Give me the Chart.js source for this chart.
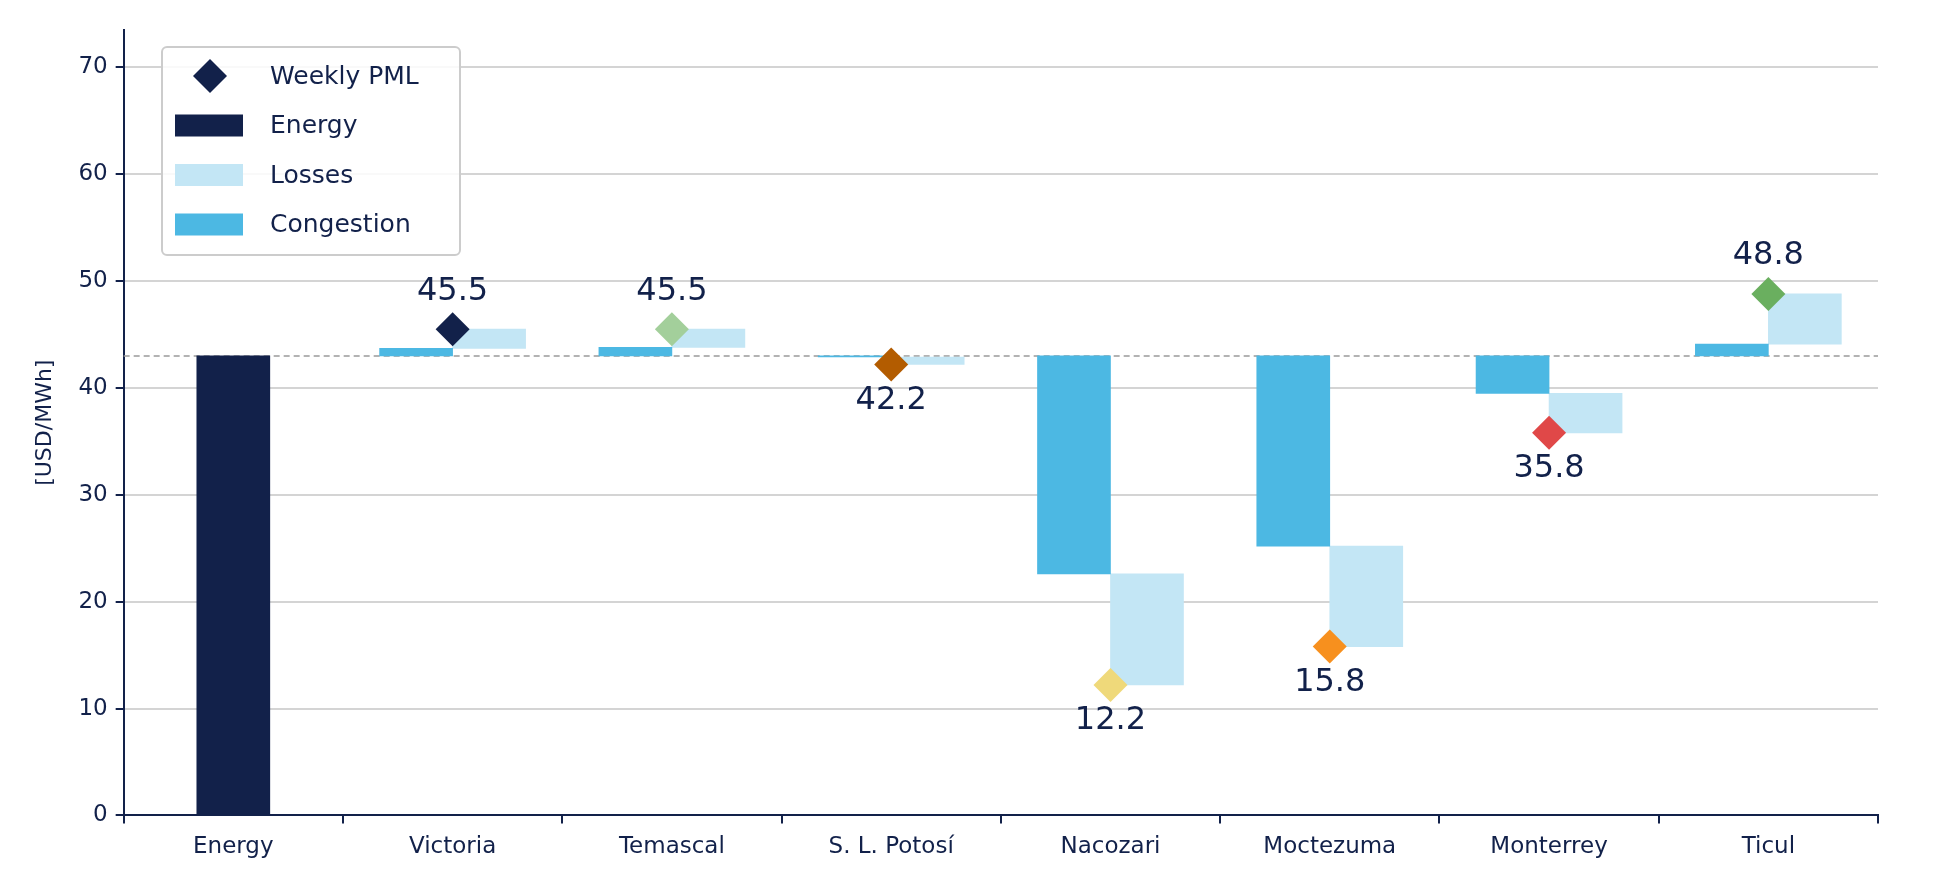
<!DOCTYPE html>
<html><head><meta charset="utf-8">
<script src="https://cdn.jsdelivr.net/npm/chart.js@4"></script>
<style>html,body{margin:0;background:#fff}#wrap{width:1940px;height:891px}</style>
</head><body><div id="wrap"><canvas id="c"></canvas></div>
<script>
const categories = ["Energy","Victoria","Temascal","S. L. Potosí","Nacozari","Moctezuma","Monterrey","Ticul"];
const energy = 43.0;
const congestionEnd = [null,43.7,43.8,42.9,22.6,25.2,39.5,44.1];
const weeklyPML = [null,45.5,45.5,42.2,12.2,15.8,35.8,48.8];
const pmlColors = ["#12214a","#12214a","#a3cf9b","#b35c00","#efd97a","#f7901e","#e04848","#6aaf5f"];
const NAVY="#12214a", LIGHT="#c3e6f5", CONG="#4cb8e3";
const F="'DejaVu Sans'";

const energyData = categories.map((c,i)=>i===0?[0,energy]:null);
const congData = categories.map((c,i)=>congestionEnd[i]===null?null:[energy,congestionEnd[i]]);
const lossData = categories.map((c,i)=>congestionEnd[i]===null?null:[congestionEnd[i],weeklyPML[i]]);

const overlay = {
  id:'overlay',
  beforeDatasetsDraw(ch){
    const {ctx,chartArea:a,scales:{y}}=ch;
    ctx.save();ctx.strokeStyle='#9a9a9a';ctx.lineWidth=1.5;ctx.setLineDash([6,4]);
    const py=y.getPixelForValue(energy);
    ctx.beginPath();ctx.moveTo(a.left,py);ctx.lineTo(a.right,py);ctx.stroke();ctx.restore();
  },
  afterDraw(ch){
    const {ctx,scales:{x,y}}=ch;
    ctx.save();ctx.fillStyle=NAVY;ctx.font="32px "+F;ctx.textAlign='center';
    weeklyPML.forEach((v,i)=>{ if(v===null)return;
      const px=x.getPixelForValue(i), py=y.getPixelForValue(v);
      if(v>energy){ctx.textBaseline='bottom';ctx.fillText(v.toFixed(1),px,py-22);}
      else{ctx.textBaseline='top';ctx.fillText(v.toFixed(1),px,py+20);}
    });
    const lx=162, ly=47, w=298, h=208;
    ctx.fillStyle='rgba(255,255,255,0.85)';ctx.strokeStyle='#cccccc';ctx.lineWidth=2;
    ctx.beginPath();ctx.roundRect(lx,ly,w,h,5);ctx.fill();ctx.stroke();
    const items=[["Weekly PML","d",NAVY],["Energy","r",NAVY],["Losses","r",LIGHT],["Congestion","r",CONG]];
    ctx.font="25px "+F;ctx.textAlign='left';ctx.textBaseline='middle';
    items.forEach((it,k)=>{
      const cy=ly+29+k*49.5;
      ctx.fillStyle=it[2];
      if(it[1]==='d'){ctx.beginPath();ctx.moveTo(210,cy-17);ctx.lineTo(227,cy);ctx.lineTo(210,cy+17);ctx.lineTo(193,cy);ctx.closePath();ctx.fill();}
      else ctx.fillRect(175,cy-11,68,22);
      ctx.fillStyle=NAVY;ctx.fillText(it[0],270,cy+1);
    });
    ctx.restore();
  }
};

new Chart(document.getElementById('c'),{
  type:'bar',
  data:{labels:categories,datasets:[
    {type:'line',label:'Weekly PML',data:weeklyPML,showLine:false,pointStyle:'rectRot',pointRadius:17,pointHoverRadius:17,
     pointBackgroundColor:pmlColors,pointBorderWidth:0,order:0},
    {label:'Energy',data:energyData,backgroundColor:NAVY,barThickness:73,skipNull:true,order:1},
    {label:'Congestion',data:congData,backgroundColor:CONG,barThickness:73,skipNull:true,order:1},
    {label:'Losses',data:lossData,backgroundColor:LIGHT,barThickness:73,skipNull:true,order:1}
  ]},
  options:{responsive:true,maintainAspectRatio:false,animation:false,
    layout:{padding:{top:30,right:62,bottom:20,left:28}},
    plugins:{legend:{display:false},tooltip:{enabled:false}},
    scales:{
      x:{grid:{display:true,drawOnChartArea:false,tickColor:NAVY,tickLength:8,lineWidth:2},border:{color:NAVY,width:2},
         ticks:{color:NAVY,font:{family:F,size:23},padding:10}},
      y:{min:0,max:73.5,border:{color:NAVY,width:2},
         grid:{color:c=>c.tick&&c.tick.value>70?'rgba(0,0,0,0)':'#d4d4d4',lineWidth:2,tickColor:c=>c.tick&&c.tick.value>70?'rgba(0,0,0,0)':NAVY,tickLength:8},
         ticks:{stepSize:10,color:NAVY,font:{family:F,size:23},padding:8,callback:v=>v%10===0&&v<=70?v:''},
         title:{display:true,text:'[USD/MWh]',color:NAVY,font:{family:F,size:22},padding:{bottom:12}}}
    }},
  plugins:[overlay]
});
</script></body></html>
